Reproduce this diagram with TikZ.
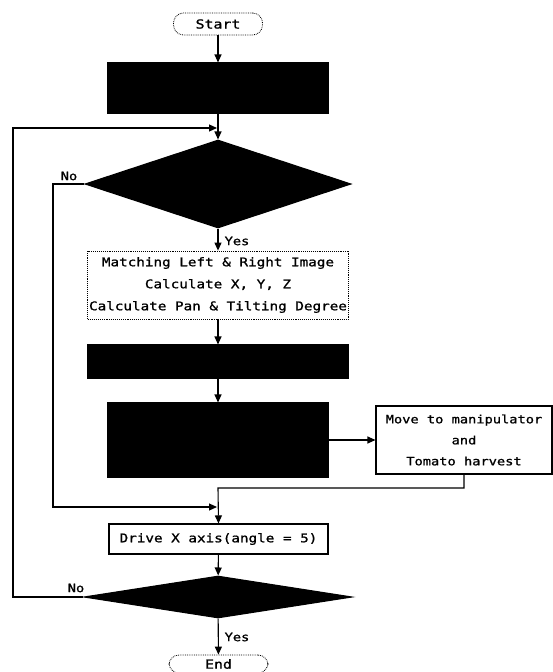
\documentclass[tikz,border=0pt]{standalone}
\usepackage{fontspec}
\usetikzlibrary{arrows.meta,shapes.geometric}
\newfontfamily\monofnt[FakeStretch=1.19,FakeBold=1.2]{DejaVu Sans Mono}
\begin{document}
\begin{tikzpicture}[x=1pt,y=-1pt,
  line width=1.1pt,
  arr/.style={-{Triangle[length=8pt,width=7pt]}},
  blackbox/.style={draw,fill=black,rectangle,inner sep=0pt},
  blackdia/.style={draw,fill=black,diamond,inner sep=0pt},
  txtbox/.style={draw,line width=1.1pt,rectangle,inner sep=0pt,align=center,font=\monofnt\fontsize{12}{22}\selectfont},
  term/.style={draw,densely dotted,line width=0.8pt,rectangle,rounded corners=10pt,inner sep=0pt,font=\monofnt\fontsize{12.5}{14}\selectfont},
  lbl/.style={inner sep=0pt,font=\monofnt\fontsize{11.5}{13}\selectfont}]
\useasboundingbox (0,0) rectangle (553,672);
% nodes
\node[term,minimum width=89pt,minimum height=22pt] (start) at (218,24) {Start};
\node[blackbox,minimum width=220pt,minimum height=50pt] (b1) at (218,88) {};
\node[blackdia,minimum width=266pt,minimum height=88pt] (d1) at (218,184) {};
\node[txtbox,densely dotted,line width=0.8pt,minimum width=261pt,minimum height=68pt] (b2) at (218,285) {Matching Left \& Right Image\\Calculate X, Y, Z\\Calculate Pan \& Tilting Degree};
\node[blackbox,minimum width=260pt,minimum height=33pt] (b3) at (218,361.5) {};
\node[blackbox,minimum width=220pt,minimum height=74pt] (b4) at (218,440) {};
\node[txtbox,minimum width=176pt,minimum height=68pt,font=\monofnt\fontsize{11.5}{21}\selectfont] (mv) at (464,440) {Move to manipulator\\and\\Tomato harvest};
\node[txtbox,minimum width=219pt,minimum height=30pt] (dr) at (218.5,539) {Drive X axis(angle = 5)};
\node[blackdia,minimum width=268pt,minimum height=42pt] (d2) at (218,597) {};
\node[term,minimum width=99pt,minimum height=18pt] (en) at (218.5,664) {End};
% labels
\node[lbl] (no1) at (69,176) {No};
\node[lbl] (yes1) at (237,241) {Yes};
\node[lbl] (no2) at (76,588) {No};
\node[lbl] (yes2) at (237,637) {Yes};
% coordinates
\coordinate (j1) at (217,128);
\coordinate (lx1) at (13,128);
\coordinate (j2) at (217,507);
\coordinate (lx2) at (53,507);
\coordinate (j3) at (218,488);
% connectors
\draw[arr] (start) -- (b1);
\draw[arr] (b1) -- (d1);
\draw[arr] (d1) -- (b2);
\draw[arr] (b2) -- (b3);
\draw[arr] (b3) -- (b4);
\draw[arr] (b4.east) -- (mv.west);
\draw[arr] (mv.south) |- (j3) -- (dr.north);
\draw[arr] (dr) -- (d2);
\draw[arr] (d2) -- (en);
\draw[arr] (d2.west) -| (lx1) -- (j1);
\draw[arr] (d1.west) -| (lx2) -- (j2);
\end{tikzpicture}
\end{document}
